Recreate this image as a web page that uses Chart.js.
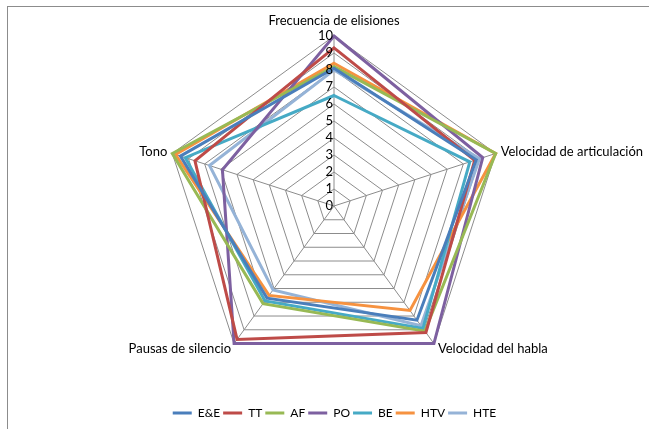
<!DOCTYPE html>
<html>
<head>
<meta charset="utf-8">
<title>Radar</title>
<script src="https://cdn.jsdelivr.net/npm/chart.js@4.4.1/dist/chart.umd.min.js"></script>
<style>
    html, body { margin: 0; padding: 0; background: #fff; }
    #wrap { position: relative; width: 649px; height: 429px; }
</style>
</head>
<body>
<div id="wrap"><canvas id="radarChart" width="649" height="429"></canvas></div>
<script>
// ejes del radar
const axisLabels = ['Frecuencia de elisiones', 'Velocidad de articulación', 'Velocidad del habla', 'Pausas de silencio', 'Tono'];
const tickValues = [0, 1, 2, 3, 4, 5, 6, 7, 8, 9, 10];

// valores de cada serie
const seriesNames = ['E&E', 'TT', 'AF', 'PO', 'BE', 'HTV', 'HTE'];
const valuesEE  = [8.1, 8.8, 8.3, 6.7, 9.5];
const valuesTT  = [9.3, 8.7, 9.2, 9.7, 8.6];
const valuesAF  = [8.2, 10, 9.1, 7.1, 10];
const valuesPO  = [10, 9.2, 10, 10, 6.9];
const valuesBE  = [6.5, 8.4, 8.9, 6.9, 9.2];
const valuesHTV = [8.4, 10, 7.6, 6.5, 9.8];
const valuesHTE = [8.0, 9.0, 8.7, 6.1, 7.7];

const seriesValues = [valuesEE, valuesTT, valuesAF, valuesPO, valuesBE, valuesHTV, valuesHTE];
const colors = ['#4A7EBB', '#BE4B48', '#98B954', '#7D60A0', '#46AAC5', '#F69240', '#95B3D7'];

const FONT = 'Lato, "Open Sans", sans-serif';

// marco gris, etiquetas de eje y de escala
const extrasPlugin = {
    id: 'extras',
    beforeDraw(chart) {
        const ctx = chart.ctx;
        ctx.save();
        ctx.strokeStyle = '#8c8c8c';
        ctx.lineWidth = 1;
        ctx.strokeRect(7.5, 6.5, 700, 500);
        ctx.restore();
    },
    afterDraw(chart) {
        const ctx = chart.ctx;
        const scale = chart.scales.r;
        ctx.save();
        ctx.fillStyle = '#000';
        ctx.font = '13px ' + FONT;

        // números de la escala, a la izquierda del eje vertical
        ctx.textAlign = 'right';
        ctx.textBaseline = 'middle';
        tickValues.forEach(v => {
            const y = scale.yCenter - scale.getDistanceFromCenterForValue(v);
            ctx.fillText(String(v), scale.xCenter - 1, y);
        });

        // etiquetas de los ejes
        const r = scale.drawingArea;
        axisLabels.forEach((label, i) => {
            const p = scale.getPointPosition(i, r);
            let x = p.x, y = p.y;
            if (i === 0) {
                ctx.textAlign = 'center'; ctx.textBaseline = 'bottom'; y -= 9;
            } else if (i === 1) {
                ctx.textAlign = 'left'; ctx.textBaseline = 'middle'; x += 5; y -= 2;
            } else if (i === 2) {
                ctx.textAlign = 'left'; ctx.textBaseline = 'middle'; x += 4; y += 5;
            } else if (i === 3) {
                ctx.textAlign = 'right'; ctx.textBaseline = 'middle'; x -= 3; y += 5;
            } else {
                ctx.textAlign = 'right'; ctx.textBaseline = 'middle'; x -= 5; y -= 2;
            }
            ctx.fillText(label, x, y);
        });
        ctx.restore();
    }
};

const datasets = seriesNames.map((name, i) => ({
    label: name,
    data: seriesValues[i],
    borderColor: colors[i],
    backgroundColor: colors[i],
    borderWidth: 3,
    fill: false,
    pointRadius: 0,
    pointHoverRadius: 0,
    pointStyle: 'line'
}));

const chart = new Chart(document.getElementById('radarChart').getContext('2d'), {
    type: 'radar',
    data: { labels: axisLabels, datasets: datasets },
    plugins: [extrasPlugin],
    options: {
        responsive: false,
        animation: false,
        layout: { padding: { left: 102, right: 82, top: 36, bottom: 0 } },
        plugins: {
            legend: {
                position: 'bottom',
                title: { display: true, text: '', padding: { top: 8, bottom: 4 }, font: { size: 12 } },
                labels: {
                    usePointStyle: true,
                    pointStyle: 'line',
                    pointStyleWidth: 19,
                    padding: 3,
                    color: '#000',
                    font: { family: FONT, size: 12 }
                }
            },
            tooltip: { enabled: false }
        },
        scales: {
            r: {
                min: 0,
                max: 10,
                ticks: { stepSize: 1, display: false },
                pointLabels: { display: false },
                grid: { color: '#8c8c8c', lineWidth: 1 },
                angleLines: { color: '#8c8c8c', lineWidth: 1 }
            }
        }
    }
});
</script>
</body>
</html>
